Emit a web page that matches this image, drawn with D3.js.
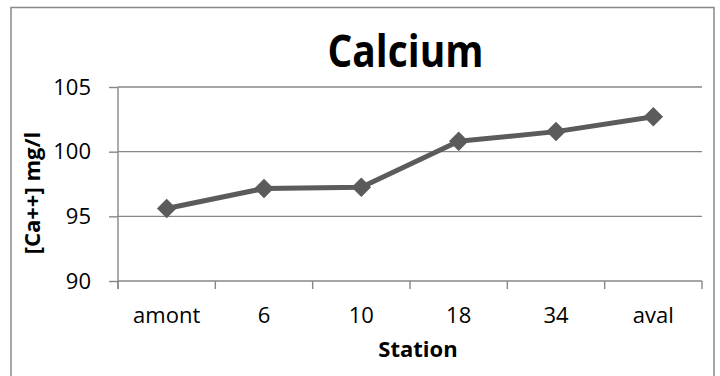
<!DOCTYPE html>
<html>
<head>
<meta charset="utf-8">
<script src="https://cdn.jsdelivr.net/npm/d3@7"></script>
<style>
  html, body { margin: 0; padding: 0; background: #fff; }
  svg { display: block; }
  text { font-family: "Open Sans", "Noto Sans", sans-serif; fill: #000; }
</style>
</head>
<body>
<svg id="chart" width="720" height="376"></svg>
<script>
// Calcium concentration per sampling station
const stations = ["amont", "6", "10", "18", "34", "aval"];
const calcium = [95.6, 97.15, 97.25, 100.8, 101.55, 102.7];
const yTicks = [90, 95, 100, 105];

const chartTitle = "Calcium";
const xTitle = "Station";
const yTitle = "[Ca++] mg/l";

const svg = d3.select("#chart");

// chart frame
svg.append("rect")
  .attr("x", 11).attr("y", 7.5)
  .attr("width", 703).attr("height", 380)
  .attr("fill", "#fff")
  .attr("stroke", "#898989")
  .attr("stroke-width", 1.5);

const plot = { left: 118, right: 702, top: 87, bottom: 281 };

const x = d3.scaleBand().domain(stations).range([plot.left, plot.right]).padding(0);
const y = d3.scaleLinear().domain([90, 105]).range([plot.bottom, plot.top]);

const gridColor = "#878787";

// horizontal gridlines
svg.append("g")
  .selectAll("line")
  .data(yTicks)
  .join("line")
  .attr("x1", plot.left).attr("x2", plot.right)
  .attr("y1", d => y(d)).attr("y2", d => y(d))
  .attr("stroke", gridColor)
  .attr("stroke-width", 1.4);

// y axis with outside ticks
const yAxis = svg.append("g")
  .attr("transform", `translate(${plot.left},0)`)
  .call(d3.axisLeft(y).tickValues(yTicks).tickSize(9).tickPadding(18).tickSizeOuter(0));
yAxis.select(".domain").remove();
yAxis.selectAll(".tick line").attr("stroke", gridColor).attr("stroke-width", 1.4);
yAxis.selectAll(".tick text")
  .attr("font-size", 22)
  .attr("font-family", "'Open Sans', sans-serif")
  .attr("fill", "#000");

// y axis line, extending down to the category tick length
svg.append("line")
  .attr("x1", plot.left).attr("x2", plot.left)
  .attr("y1", plot.top).attr("y2", plot.bottom + 8)
  .attr("stroke", gridColor).attr("stroke-width", 1.4);

// category boundary ticks
const boundaries = stations.map(s => x(s)).concat([x(stations[stations.length - 1]) + x.bandwidth()]);
svg.append("g")
  .selectAll("line")
  .data(boundaries)
  .join("line")
  .attr("x1", d => d).attr("x2", d => d)
  .attr("y1", plot.bottom).attr("y2", plot.bottom + 8)
  .attr("stroke", gridColor).attr("stroke-width", 1.4);

// category labels
svg.append("g")
  .selectAll("text")
  .data(stations)
  .join("text")
  .attr("x", d => x(d) + x.bandwidth() / 2)
  .attr("y", 323)
  .attr("text-anchor", "middle")
  .attr("font-size", 22)
  .text(d => d);

// series line
const cx = (d, i) => x(stations[i]) + x.bandwidth() / 2;
const line = d3.line().x((d, i) => cx(d, i)).y(d => y(d));
svg.append("path")
  .datum(calcium)
  .attr("d", line)
  .attr("fill", "none")
  .attr("stroke", "#5b5b5b")
  .attr("stroke-width", 5)
  .attr("stroke-linejoin", "round");

// diamond markers
const diamond = d3.symbol().type(d3.symbolSquare).size(190);
svg.append("g")
  .selectAll("path")
  .data(calcium)
  .join("path")
  .attr("d", diamond)
  .attr("transform", (d, i) => `translate(${cx(d, i)},${y(d)}) rotate(45)`)
  .attr("fill", "#5b5b5b");

// titles
svg.append("text")
  .attr("x", 405.5).attr("y", 67)
  .attr("text-anchor", "middle")
  .attr("font-size", 45)
  .attr("font-weight", 700)
  .attr("textLength", 156)
  .attr("lengthAdjust", "spacingAndGlyphs")
  .text(chartTitle);

svg.append("text")
  .attr("x", 418).attr("y", 357)
  .attr("text-anchor", "middle")
  .attr("font-size", 22)
  .attr("font-weight", 700)
  .text(xTitle);

svg.append("text")
  .attr("transform", "translate(40,193) rotate(-90)")
  .attr("text-anchor", "middle")
  .attr("font-size", 22)
  .attr("font-weight", 700)
  .text(yTitle);
</script>
</body>
</html>
